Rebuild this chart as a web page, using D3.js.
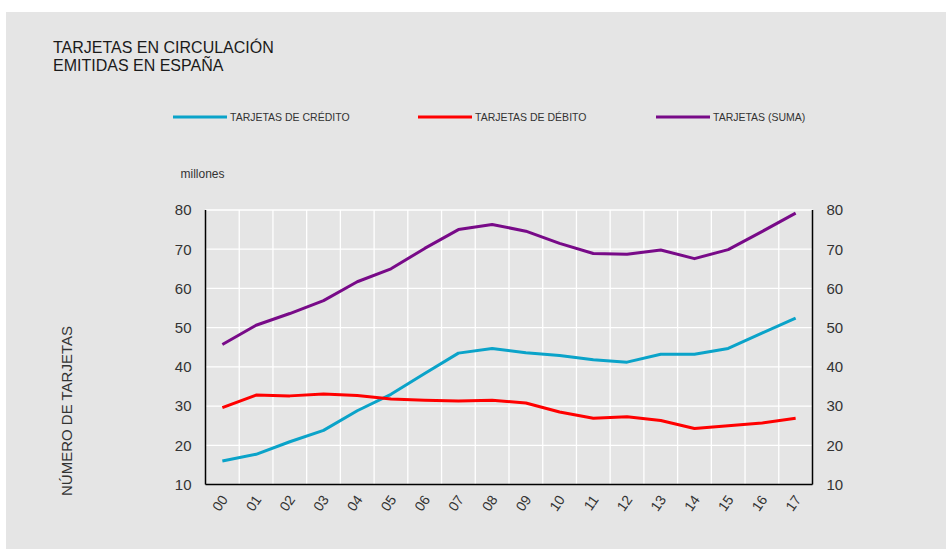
<!DOCTYPE html>
<html>
<head>
<meta charset="utf-8">
<script src="https://cdn.jsdelivr.net/npm/d3@7"></script>
<style>
  html, body { margin: 0; padding: 0; background: #ffffff; }
  svg { display: block; font-family: "Liberation Sans", Arial, Helvetica, sans-serif; }
</style>
</head>
<body>
<svg id="chart" width="946" height="551"></svg>
<script>
const years = ["00","01","02","03","04","05","06","07","08","09","10","11","12","13","14","15","16","17"];
const credito = [16.0, 17.7, 20.9, 23.8, 28.8, 33.0, 38.3, 43.5, 44.7, 43.6, 42.9, 41.8, 41.2, 43.2, 43.2, 44.7, 48.6, 52.4];
const debito  = [29.6, 32.8, 32.6, 33.1, 32.7, 31.8, 31.5, 31.3, 31.5, 30.8, 28.5, 26.9, 27.3, 26.3, 24.3, 25.0, 25.7, 26.9];
const suma    = [45.7, 50.6, 53.6, 56.9, 61.7, 65.0, 70.2, 75.0, 76.3, 74.6, 71.5, 68.9, 68.7, 69.8, 67.6, 69.9, 74.5, 79.2];
const yTicks  = [10, 20, 30, 40, 50, 60, 70, 80];
const seriesNames = ["TARJETAS DE CRÉDITO", "TARJETAS DE DÉBITO", "TARJETAS (SUMA)"];
const seriesColors = ["#0aa3c9", "#ff0000", "#780a88"];
const titleLines = ["TARJETAS EN CIRCULACIÓN", "EMITIDAS EN ESPAÑA"];

(function () {
const svg = d3.select("#chart");

svg.append("rect").attr("x", 6).attr("y", 12).attr("width", 940).attr("height", 537).attr("fill", "#e5e5e5");

const pL = 205.5, pR = 812.5, pT = 210, pB = 484.5;
const x = d3.scaleBand().domain(years).range([pL, pR]).padding(0);
const y = d3.scaleLinear().domain([10, 80]).range([pB, pT]);

// title
svg.append("g").selectAll("text").data(titleLines).join("text")
  .attr("x", 53).attr("y", (d, i) => 53 + i * 18)
  .attr("font-size", 16).attr("fill", "#1a1a1a").text(d => d);

// legend
const legX = [173, 418, 656];
const leg = svg.append("g").selectAll("g").data(seriesNames).join("g")
  .attr("transform", (d, i) => `translate(${legX[i]},117)`);
leg.append("line").attr("x1", 0).attr("x2", 54).attr("y1", 0).attr("y2", 0)
  .attr("stroke", (d, i) => seriesColors[i]).attr("stroke-width", 3);
leg.append("text").attr("x", 57).attr("y", 3.8).attr("font-size", 10.5)
  .attr("fill", "#333").text(d => d);

svg.append("text").attr("x", 180.5).attr("y", 177.5).attr("font-size", 12)
  .attr("fill", "#333").text("millones");

// grid
const grid = svg.append("g");
grid.selectAll("line.h").data(yTicks.filter(t => t > 10)).join("line")
  .attr("x1", pL).attr("x2", pR).attr("y1", d => y(d)).attr("y2", d => y(d))
  .attr("stroke", "#ffffff").attr("stroke-width", 1.3);
grid.selectAll("line.v").data(years.slice(1)).join("line")
  .attr("x1", d => x(d)).attr("x2", d => x(d)).attr("y1", pT).attr("y2", pB)
  .attr("stroke", "#ffffff").attr("stroke-width", 1.3);

// axes
const yLeft = d3.axisLeft(y).tickValues(yTicks).tickSize(0).tickPadding(14);
const gL = svg.append("g").attr("transform", `translate(${pL},0)`).call(yLeft);
const yRight = d3.axisRight(y).tickValues(yTicks).tickSize(0).tickPadding(14);
const gR = svg.append("g").attr("transform", `translate(${pR},0)`).call(yRight);
[gL, gR].forEach(g => {
  g.select(".domain").remove();
  g.selectAll("text").attr("font-size", 15).attr("fill", "#333").attr("font-family", "Liberation Sans, Arial, sans-serif");
});
svg.append("line").attr("x1", pL).attr("x2", pL).attr("y1", pT).attr("y2", pB).attr("stroke", "#000").attr("stroke-width", 1.5);
svg.append("line").attr("x1", pR).attr("x2", pR).attr("y1", pT).attr("y2", pB).attr("stroke", "#000").attr("stroke-width", 1.5);
svg.append("line").attr("x1", pL).attr("x2", pR).attr("y1", pB).attr("y2", pB).attr("stroke", "#000").attr("stroke-width", 1.5);

const xAxis = d3.axisBottom(x).tickSize(0).tickPadding(0);
const gX = svg.append("g").attr("transform", `translate(0,${pB})`).call(xAxis);
gX.select(".domain").remove();
gX.selectAll("text")
  .attr("font-size", 14).attr("fill", "#333").attr("font-family", "Liberation Sans, Arial, sans-serif")
  .attr("text-anchor", "end").attr("dy", null).attr("y", 0)
  .attr("transform", "translate(6,15) rotate(-55)");

// y title
svg.append("text").attr("transform", "translate(72,411) rotate(-90)")
  .attr("text-anchor", "middle").attr("font-size", 15).attr("fill", "#333")
  .text("NÚMERO DE TARJETAS");

// lines
const cx = d => x(d) + x.bandwidth() / 2;
const line = d3.line().x(d => cx(d.year)).y(d => y(d.v));
[credito, debito, suma].forEach((arr, i) => {
  svg.append("path")
    .datum(arr.map((v, j) => ({ year: years[j], v })))
    .attr("fill", "none").attr("stroke", seriesColors[i]).attr("stroke-width", 3)
    .attr("stroke-linejoin", "round").attr("d", line);
});
})();
</script>
</body>
</html>
